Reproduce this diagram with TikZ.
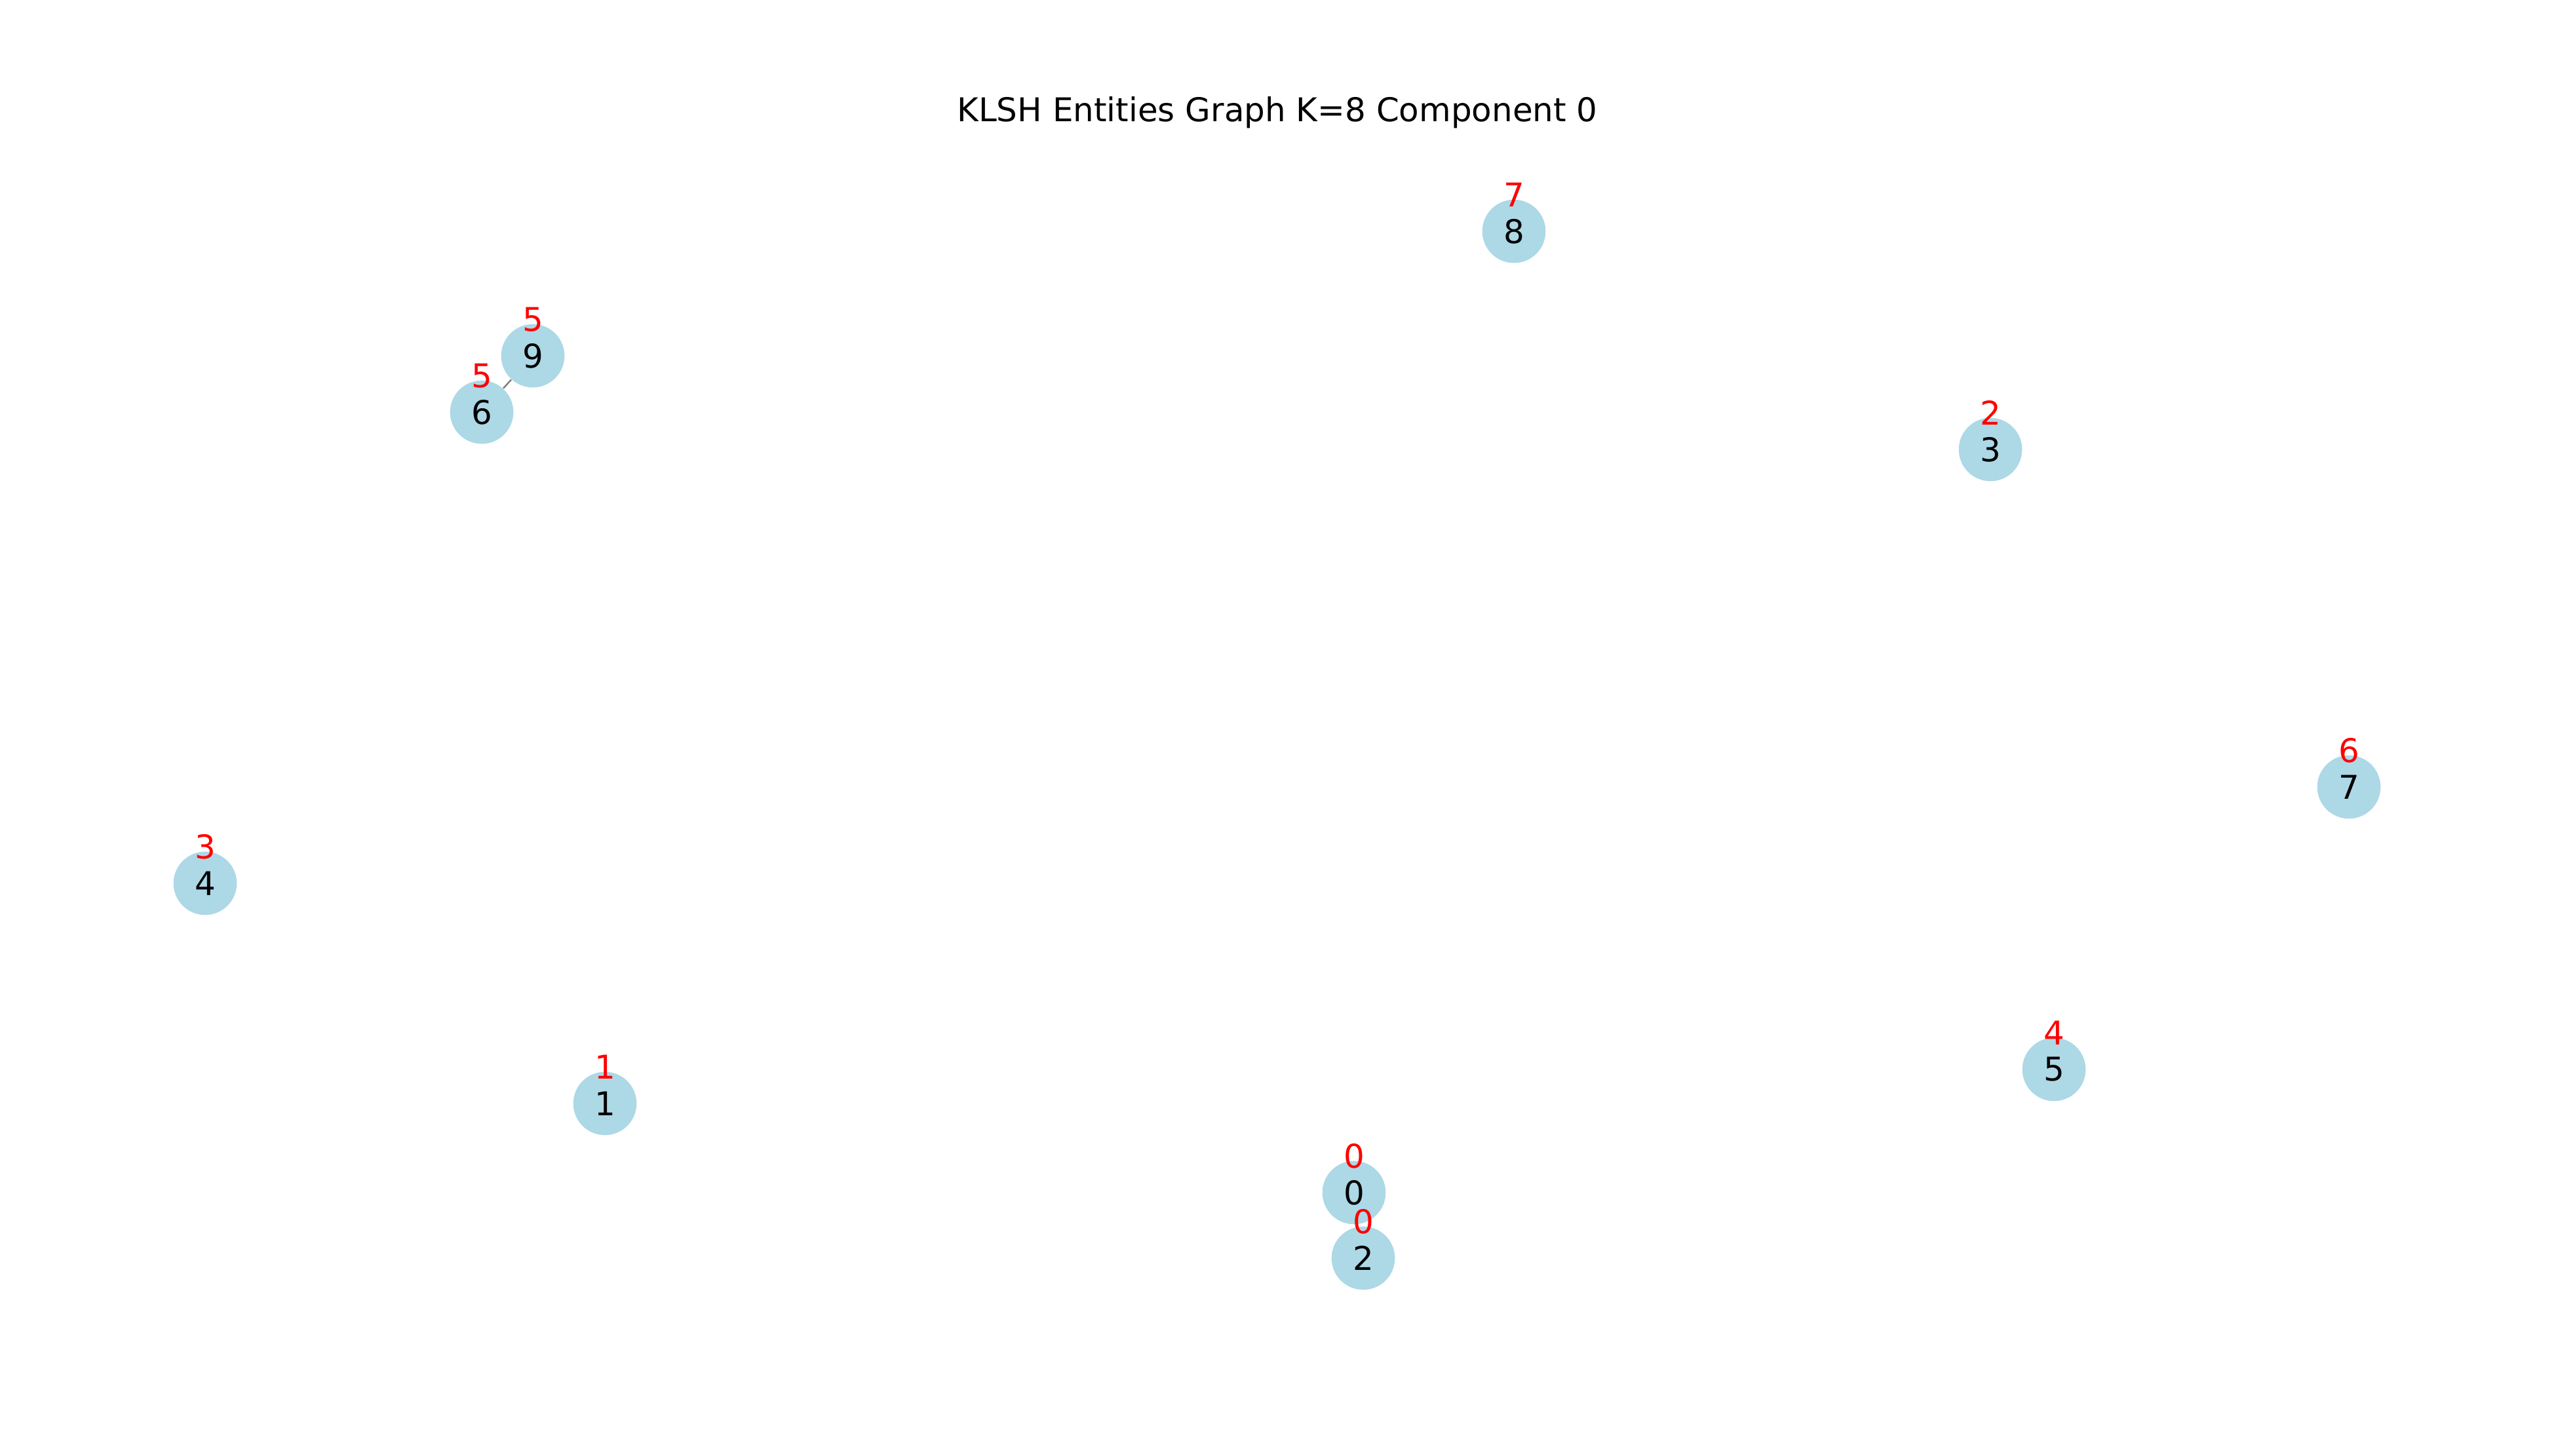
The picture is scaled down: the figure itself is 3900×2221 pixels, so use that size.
\documentclass[tikz,border=0pt]{standalone}
\usepackage{fontspec}
\setmainfont{DejaVu Sans}
\definecolor{nodeblue}{HTML}{ADD8E6}
\definecolor{lblred}{HTML}{FF0000}
\definecolor{edgegray}{HTML}{808080}
\tikzset{
  vertex/.style={circle, fill=nodeblue, draw=none, minimum size=0.966cm, inner sep=0pt, font=\fontsize{14.2}{17}\selectfont},
  lbl/.style={text=lblred, inner sep=0pt, font=\fontsize{14.2}{17}\selectfont},
  edge/.style={draw=edgegray, line width=0.025cm},
  titletext/.style={inner sep=0pt, font=\fontsize{14.2}{17}\selectfont}
}
\begin{document}
\begin{tikzpicture}[x=0.01cm, y=-0.01cm]
\useasboundingbox (0,0) rectangle (3900,2221);
\node[titletext] (title) at (1949,172) {KLSH Entities Graph K=8 Component 0};
\node[vertex] (n8) at (2310,353) {8};
\node[vertex] (n9) at (813,543) {9};
\node[vertex] (n6) at (735,629) {6};
\node[vertex] (n3) at (3037,686) {3};
\node[vertex] (n7) at (3584,1201) {7};
\node[vertex] (n4) at (313,1348) {4};
\node[vertex] (n5) at (3134,1632) {5};
\node[vertex] (n1) at (923,1684) {1};
\node[vertex] (n0) at (2066,1820) {0};
\node[vertex] (n2) at (2080,1920) {2};
\draw[edge] (n9) -- (n6);
\node[lbl] (l8) at (2310,297) {7};
\node[lbl] (l9) at (813,488) {5};
\node[lbl] (l6) at (735,574) {5};
\node[lbl] (l3) at (3037,630) {2};
\node[lbl] (l7) at (3584,1145) {6};
\node[lbl] (l4) at (313,1292) {3};
\node[lbl] (l5) at (3134,1576) {4};
\node[lbl] (l1) at (923,1628) {1};
\node[lbl] (l0) at (2066,1764) {0};
\node[lbl] (l2) at (2080,1864) {0};
\end{tikzpicture}
\end{document}
